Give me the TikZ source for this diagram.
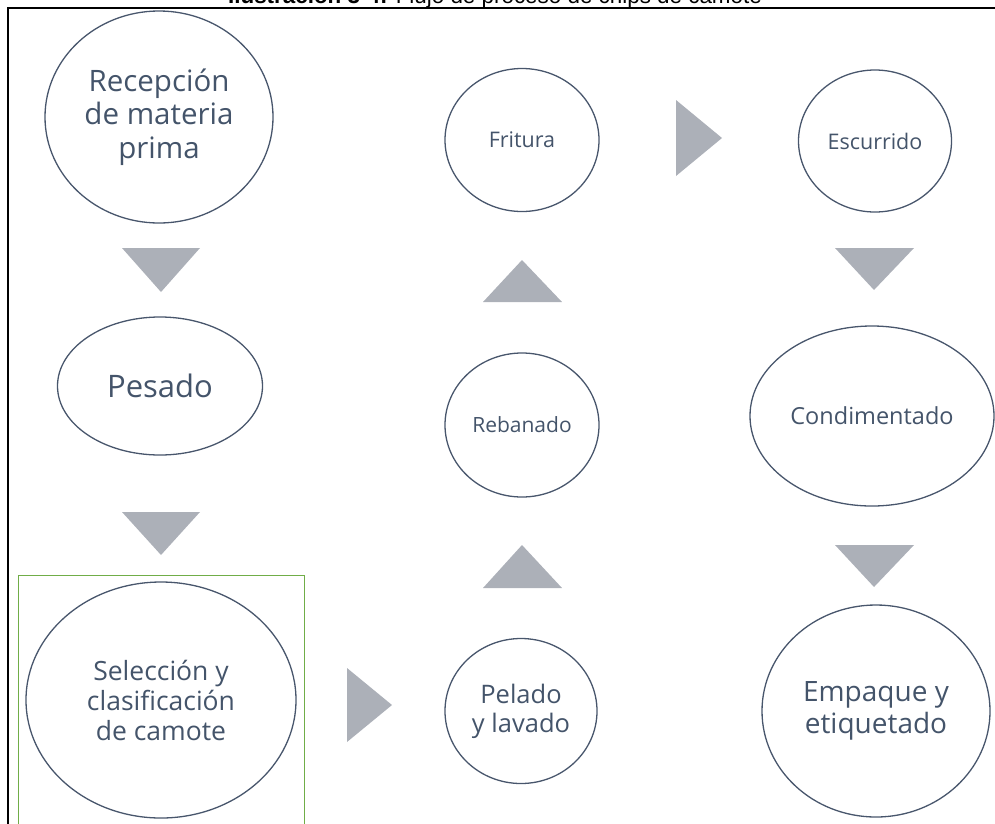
\documentclass[tikz,border=0pt]{standalone}
\usepackage{fontspec}
\setmainfont{Open Sans}
\newfontfamily\titlefont{Liberation Sans}
\definecolor{txt}{RGB}{68,84,106}
\definecolor{edge}{RGB}{72,86,108}
\definecolor{tri}{RGB}{172,176,184}
\definecolor{grn}{RGB}{112,173,71}
\begin{document}
\begin{tikzpicture}[x=1pt,y=-1pt,
  stepnode/.style={ellipse, draw=edge, line width=1.3pt, text=txt, align=center, inner sep=0pt},
  arrowtri/.style={fill=tri, draw=none},
  fs/.style 2 args={font=\fontsize{#1}{#2}\selectfont}]
\usetikzlibrary{shapes.geometric}
\useasboundingbox (0,0) rectangle (995,823);
\clip (0,0) rectangle (995,823);
% title (cut off at the top)
\node[anchor=base, inner sep=0pt, font=\titlefont\fontsize{22.4}{26}\selectfont] (title) at (495,3.5)
  {\textbf{Ilustración 3-4:} Flujo de proceso de chips de camote};
% frame
\draw[line width=2pt] (995,8) -- (8,8) -- (8,824);
% green selection box
\draw[grn, line width=1pt] (18,824) -- (18,575) -- (304,575) -- (304,824);
% nodes
\node[stepnode, minimum width=228, minimum height=212, fs={29.5}{33.5}] (rec) at (159,117) {Recepción\\de materia\\prima};
\node[stepnode, minimum width=205, minimum height=138, fs={31}{35}] (pes) at (160,386) {Pesado};
\node[stepnode, minimum width=270, minimum height=236, fs={26.5}{30}] (sel) at (161,700) {Selección y\\clasificación\\de camote};
\node[stepnode, minimum width=154, minimum height=143, fs={21.5}{25}] (fri) at (522,140) {Fritura};
\node[stepnode, minimum width=154, minimum height=144, fs={21}{25}] (reb) at (522,425) {Rebanado};
\node[stepnode, minimum width=152, minimum height=145, fs={25.5}{29}] (pel) at (521,711) {Pelado\\y lavado};
\node[stepnode, minimum width=153, minimum height=142, fs={21.5}{25}] (esc) at (875,141) {Escurrido};
\node[stepnode, minimum width=244, minimum height=180, fs={23.5}{27}] (con) at (872,416) {Condimentado};
\node[stepnode, minimum width=228, minimum height=212, fs={28}{32}] (emp) at (876,711) {Empaque y\\etiquetado};
% triangle arrows
\fill[arrowtri] (122,248) -- (200,248) -- (161,292) -- cycle;
\fill[arrowtri] (122,512) -- (200,512) -- (161,555) -- cycle;
\fill[arrowtri] (347,668) -- (347,742) -- (392,705) -- cycle;
\fill[arrowtri] (483,588) -- (562,588) -- (522,545) -- cycle;
\fill[arrowtri] (483,302) -- (562,302) -- (522,260) -- cycle;
\fill[arrowtri] (676,100) -- (676,176) -- (722,138) -- cycle;
\fill[arrowtri] (835,248) -- (914,248) -- (874,290) -- cycle;
\fill[arrowtri] (835,545) -- (914,545) -- (874,587) -- cycle;
\end{tikzpicture}
\end{document}
